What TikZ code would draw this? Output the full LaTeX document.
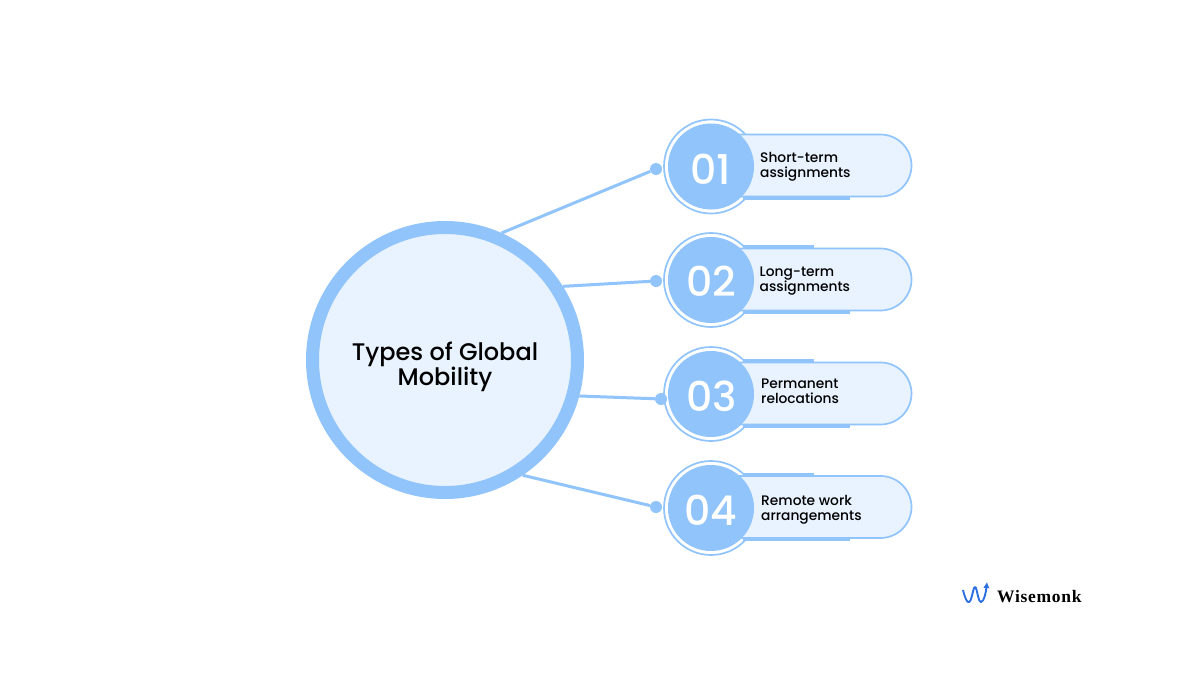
\documentclass[tikz,border=0pt]{standalone}
\usepackage{fontspec}
\usetikzlibrary{arrows.meta}
\setmainfont{Poppins Medium}
\newfontfamily\logofont[LetterSpace=4]{Liberation Serif}
\definecolor{ringblue}{HTML}{90C4FB}
\definecolor{paleblue}{HTML}{E8F3FF}
\definecolor{logoblue}{HTML}{2B6FE0}
\begin{document}
\begin{tikzpicture}[
  x=1pt,y=-1pt,
  main node/.style={draw=ringblue,fill=paleblue,circle,line width=13pt,minimum size=265pt,inner sep=0pt},
  title node/.style={align=center,inner sep=0pt,text=black,font=\fontsize{24}{25}\selectfont},
  ring node/.style={draw=ringblue,fill=white,circle,line width=1.7pt,minimum size=94pt,inner sep=0pt},
  disc node/.style={fill=ringblue,circle,minimum size=86pt,inner sep=0pt},
  num node/.style={inner sep=0pt,text=white,font=\fontsize{41}{41}\selectfont},
  pill node/.style={draw=ringblue,fill=paleblue,line width=1.7pt,minimum width=221pt,minimum height=62pt,rounded corners=31pt,inner sep=0pt},
  label node/.style={anchor=west,align=left,inner sep=0pt,text=black,font=\fontsize{13.8}{15}\selectfont},
  dot node/.style={fill=ringblue,circle,minimum size=12pt,inner sep=0pt},
  link/.style={draw=ringblue,line width=3pt},
  accent/.style={draw=ringblue,line width=2.2pt},
  ]
  \useasboundingbox[fill=white] (0,0) rectangle (1200,675);
  % first badge
  \node[ring node](r1) at (711,166.5){};
  \draw[accent] (743,198.5) -- (850,198.5);
  \node[pill node](p1) at (801,165.5){};
  \node[disc node](n1) at (711,166.5){};
  \node[num node](m1) at (711,169){01};
  \node[label node](t1) at (760,167){Short-term\\assignments};
  % second badge
  \node[ring node](r2) at (711,280){};
  \draw[accent] (743,246.5) -- (814,246.5) (743,312.5) -- (850,312.5);
  \node[pill node](p2) at (801,279.5){};
  \node[disc node](n2) at (711,280){};
  \node[num node](m2) at (711.5,281.5){02};
  \node[label node](t2) at (759.5,281){Long-term\\assignments};
  % third badge
  \node[ring node](r3) at (711,394){};
  \draw[accent] (743,360.5) -- (814,360.5) (743,426.5) -- (850,426.5);
  \node[pill node](p3) at (801,393.5){};
  \node[disc node](n3) at (711,394){};
  \node[num node](m3) at (711.5,396){03};
  \node[label node](t3) at (761,391){Permanent\\relocations};
  % fourth badge
  \node[ring node](r4) at (711,508){};
  \draw[accent] (743,474) -- (814,474) (743,540) -- (850,540);
  \node[pill node](p4) at (801,507){};
  \node[disc node](n4) at (711,508){};
  \node[num node](m4) at (711,510.5){04};
  \node[label node](t4) at (761,510){Remote work\\arrangements};
  % centre and links
  \node[dot node](d1) at (656,169){};
  \node[dot node](d2) at (656,281){};
  \node[dot node](d3) at (661,399){};
  \node[dot node](d4) at (656,507){};
  \node[main node](main) at (445,360){};
  \node[title node](title) at (445,366.5){Types of Global\\Mobility};
  \path[link]
  (main.66) edge (d1)
  (main.32) edge (d2)
  (main.-15) edge (d3)
  (main.-56) edge (d4);
  % logo
  \draw[logoblue,line width=1.9pt,line join=round,-{Latex[length=6pt,width=6.5pt]}]
  (963,590) .. controls (965,598) and (967,603) .. (969,602)
  .. controls (972,601) and (973,587) .. (975,587)
  .. controls (977,587) and (978,602) .. (981,602)
  .. controls (984,602) and (986,592) .. (987,582);
  \node[anchor=west,inner sep=0pt,font=\logofont\bfseries\fontsize{17.5}{17.5}\selectfont](logo) at (997,596.5){Wisemonk};
\end{tikzpicture}
\end{document}
